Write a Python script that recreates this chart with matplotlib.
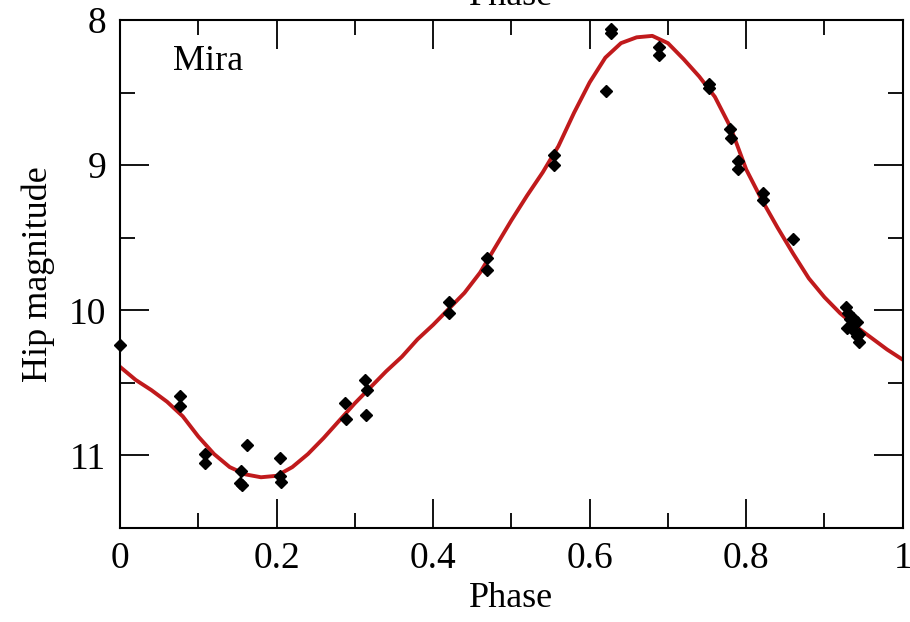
import matplotlib
matplotlib.use("Agg")
import matplotlib.pyplot as plt
from matplotlib.ticker import MultipleLocator

# data
obs_phase = [0.0, 0.077, 0.077, 0.109, 0.109, 0.155, 0.153, 0.156, 0.162,
             0.204, 0.204, 0.205, 0.287, 0.289, 0.313, 0.315, 0.314,
             0.42, 0.42, 0.469, 0.469, 0.554, 0.554, 0.621, 0.627, 0.627,
             0.688, 0.688, 0.752, 0.752, 0.779, 0.781, 0.789, 0.790,
             0.821, 0.821, 0.86,
             0.927, 0.930, 0.933, 0.936, 0.938, 0.941, 0.944, 0.929, 0.936,
             0.941, 0.944]
obs_mag = [10.24, 10.59, 10.66, 10.99, 11.05, 11.11, 11.19, 11.20, 10.93,
           11.02, 11.14, 11.18, 10.64, 10.75, 10.48, 10.55, 10.72,
           9.94, 10.02, 9.64, 9.72, 8.93, 9.00, 8.49, 8.06, 8.09,
           8.19, 8.24, 8.44, 8.47, 8.75, 8.81, 8.97, 9.03,
           9.19, 9.24, 9.51,
           9.98, 10.02, 10.06, 10.10, 10.14, 10.18, 10.22, 10.12, 10.05,
           10.08, 10.16]

fit_phase = [0.0, 0.02, 0.04, 0.06, 0.08, 0.10, 0.12, 0.14, 0.16, 0.18,
             0.20, 0.22, 0.24, 0.26, 0.28, 0.30, 0.32, 0.34, 0.36, 0.38,
             0.40, 0.42, 0.44, 0.46, 0.48, 0.50, 0.52, 0.54, 0.56, 0.58,
             0.60, 0.62, 0.64, 0.66, 0.68, 0.70, 0.72, 0.74, 0.76, 0.78,
             0.80, 0.82, 0.84, 0.86, 0.88, 0.90, 0.92, 0.94, 0.96, 0.98, 1.0]
fit_mag = [10.39, 10.48, 10.55, 10.63, 10.73, 10.87, 10.99, 11.08, 11.13, 11.15,
           11.14, 11.08, 10.99, 10.88, 10.76, 10.64, 10.53, 10.42, 10.32, 10.20,
           10.10, 9.99, 9.88, 9.74, 9.56, 9.38, 9.21, 9.05, 8.87, 8.64,
           8.43, 8.26, 8.16, 8.12, 8.11, 8.16, 8.27, 8.39, 8.53, 8.74,
           9.03, 9.24, 9.43, 9.61, 9.78, 9.91, 10.02, 10.11, 10.19, 10.27, 10.34]

plt.rcParams["font.family"] = ["Liberation Serif", "DejaVu Serif"]

fig = plt.figure(figsize=(9.1, 6.22), dpi=100)
ax = fig.add_axes([0.132, 0.151, 0.860, 0.817])

ax.plot(fit_phase, fit_mag, color="#c01a1c", lw=2.8, zorder=2,
        solid_joinstyle="round")
ax.plot(obs_phase, obs_mag, ls="none", marker="D", ms=6, color="black",
        zorder=3, clip_on=False)

ax.set_xlim(0, 1)
ax.set_ylim(11.5, 8)
ax.xaxis.set_minor_locator(MultipleLocator(0.1))
ax.yaxis.set_major_locator(MultipleLocator(1))
ax.yaxis.set_minor_locator(MultipleLocator(0.5))
ax.set_xticks([0, 0.2, 0.4, 0.6, 0.8, 1.0])
ax.set_xticklabels(["0", "0.2", "0.4", "0.6", "0.8", "1"])

ax.tick_params(which="both", direction="in", top=True, right=True,
               labelsize=27, width=1.3, pad=10)
ax.tick_params(which="major", length=21)
ax.tick_params(which="minor", length=11)
for side in ["bottom", "top", "left", "right"]:
    ax.spines[side].set_linewidth(1.5)

ax.set_xlabel("Phase", fontsize=26, labelpad=4)
ax.set_ylabel("Hip magnitude", fontsize=26, labelpad=10)
ax.text(0.068, 0.918, "Mira", transform=ax.transAxes, fontsize=26,
        ha="left", va="center")

# top axis label, cut by the figure edge
fig.text(0.562, 1.005, "Phase", fontsize=26, ha="center", va="center")

fig.savefig("out.png", dpi=100)
